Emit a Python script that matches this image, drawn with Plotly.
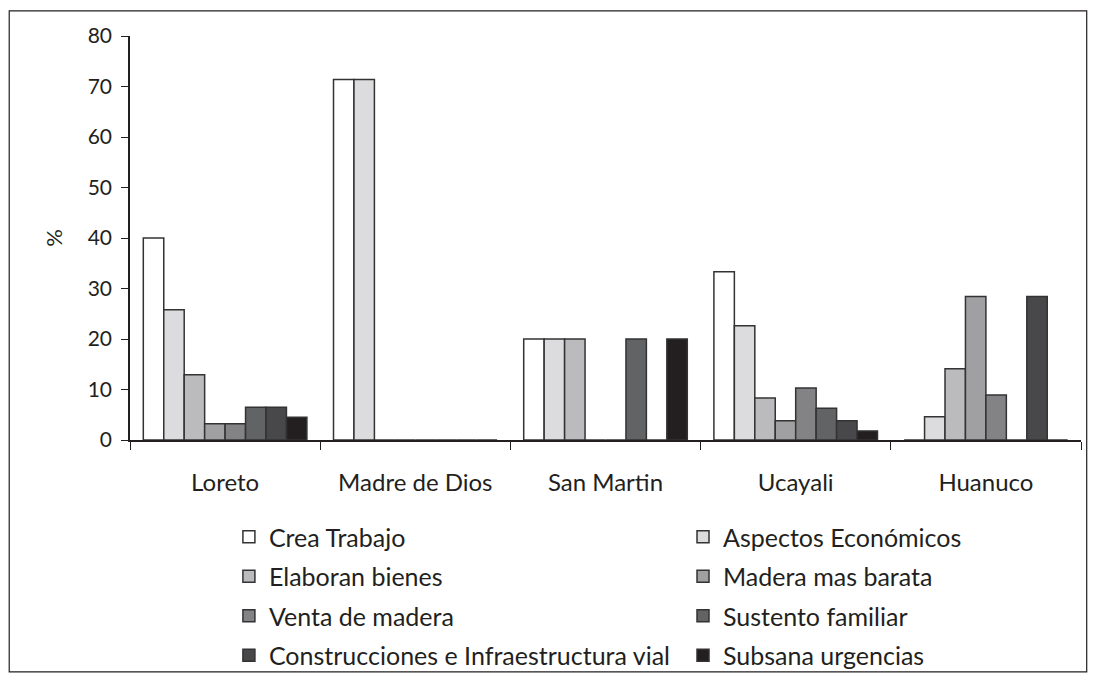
import plotly.graph_objects as go

# Regiones (categorias del eje X)
regiones = ["Loreto", "Madre de Dios", "San Martin", "Ucayali", "Huanuco"]

# Porcentaje por motivo y region
crea_trabajo = [40.0, 71.4, 20.0, 33.3, 0]
aspectos_economicos = [25.8, 71.4, 20.0, 22.6, 4.6]
elaboran_bienes = [12.9, 0, 20.0, 8.3, 14.1]
madera_mas_barata = [3.2, 0, 0, 3.8, 28.4]
venta_de_madera = [3.2, 0, 0, 10.3, 8.9]
sustento_familiar = [6.5, 0, 20.0, 6.3, 0]
construcciones = [6.5, 0, 0, 3.8, 28.4]
subsana_urgencias = [4.5, 0, 20.0, 1.8, 0]

series = [
    ("Crea Trabajo", crea_trabajo, "#ffffff", "legend"),
    ("Aspectos Económicos", aspectos_economicos, "#dcdcde", "legend2"),
    ("Elaboran bienes", elaboran_bienes, "#bbbbbd", "legend"),
    ("Madera mas barata", madera_mas_barata, "#a0a0a2", "legend2"),
    ("Venta de madera", venta_de_madera, "#838385", "legend"),
    ("Sustento familiar", sustento_familiar, "#626365", "legend2"),
    ("Construcciones e Infraestructura vial", construcciones, "#48484a", "legend"),
    ("Subsana urgencias", subsana_urgencias, "#231f20", "legend2"),
]

fig = go.Figure()
for nombre, valores, color, leyenda in series:
    fig.add_trace(go.Bar(
        name=nombre, x=regiones, y=valores,
        marker=dict(color=color, line=dict(color="#333333", width=1.5)),
        legend=leyenda, legendgroup=nombre,
    ))

fuente = dict(family="Lato, 'Open Sans', sans-serif", size=21, color="#231f20")

# leyenda en dos columnas; y referida al contenedor
ley = dict(
    orientation="v", xanchor="left", yanchor="top", yref="container", y=0.247,
    font=dict(fuente, size=25), tracegroupgap=4, bgcolor="rgba(0,0,0,0)",
    itemclick=False,
)

# la pagina tiene 8px de margen en el body, por eso la figura es 8px menor
fig.update_layout(
    width=1088, height=672,
    margin=dict(l=122, r=15, t=28, b=240),
    plot_bgcolor="white", paper_bgcolor="white",
    font=fuente,
    barmode="group", bargap=0.14, bargroupgap=0,
    legend=dict(ley, x=0.104),
    legend2=dict(ley, x=0.5815),
    xaxis=dict(
        showline=True, linecolor="#231f20", linewidth=1.5,
        ticks="outside", tickson="boundaries", ticklen=8, tickcolor="#231f20",
        tickfont=dict(size=24), showgrid=False, automargin=False,
        ticklabelstandoff=20,
    ),
    yaxis=dict(
        range=[0, 80], dtick=10, showline=True, linecolor="#231f20", linewidth=1.5,
        ticks="outside", ticklen=7, tickcolor="#231f20", showgrid=False,
        tickfont=dict(size=21), zeroline=False, automargin=False,
        ticklabelstandoff=5,
        title=dict(text="%", font=dict(size=22), standoff=19),
    ),
    # marco exterior del grafico
    shapes=[dict(
        type="rect", xref="paper", yref="paper",
        x0=-0.127, x1=1.006, y0=-0.574, y1=1.062,
        line=dict(color="#231f20", width=1.2), fillcolor="rgba(0,0,0,0)",
    )],
)

fig.write_html("out.html")
